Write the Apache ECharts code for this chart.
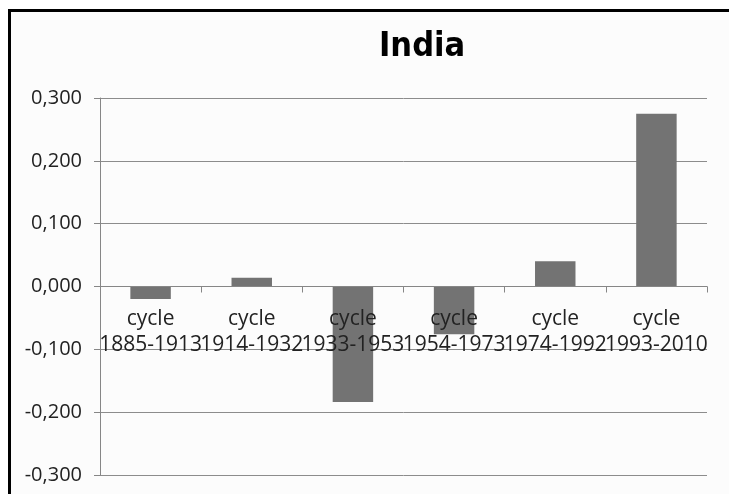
<!DOCTYPE html>
<html>
<head>
<meta charset="utf-8">
<script src="https://cdn.jsdelivr.net/npm/echarts@6/dist/echarts.min.js"></script>
<style>
	html, body { margin: 0; padding: 0; background: #ffffff; }
	#chart { width: 729px; height: 494px; }
</style>
</head>
<body>
<div id="chart"></div>
<script>
var titleText = 'India';
var periods = ['1885-1913', '1914-1932', '1933-1953', '1954-1973', '1974-1992', '1993-2010'];
var values = [-0.020, 0.014, -0.184, -0.076, 0.040, 0.275];
var yTicks = [-0.3, -0.2, -0.1, 0, 0.1, 0.2, 0.3];

var categories = [];
for (var i = 0; i < periods.length; i++) {
	categories.push('cycle\n' + periods[i]);
}

// plot box in px, the x axis sits on the zero line
var plotTop = 98, plotBottom = 475;
var zeroOffset = (plotBottom - plotTop) * (0 - yTicks[0]) / (yTicks[yTicks.length - 1] - yTicks[0]);

var chart = echarts.init(document.getElementById('chart'));

var option = {
	animation: false,
	backgroundColor: '#ffffff',
	graphic: [{
		type: 'rect',
		z: -10,
		silent: true,
		shape: { x: 9.5, y: 10.5, width: 760, height: 520 },
		style: { fill: '#fcfcfc', stroke: '#000000', lineWidth: 3 }
	}],
	title: {
		text: titleText,
		left: 374,
		top: 25,
		textStyle: {
			fontFamily: "'Liberation Sans Narrow', 'DejaVu Sans Condensed', sans-serif",
			fontWeight: 'bold',
			fontSize: 34,
			color: '#000000'
		}
	},
	grid: {
		left: 100,
		right: 22,
		top: plotTop,
		bottom: 494 - plotBottom,
		containLabel: false,
		outerBoundsMode: 'none'
	},
	xAxis: {
		type: 'category',
		data: categories,
		position: 'bottom',
		offset: -zeroOffset,
		z: 5,
		axisLine: { onZero: false, lineStyle: { color: '#868686', width: 1 } },
		axisTick: { show: true, length: 6, lineStyle: { color: '#868686' } },
		axisLabel: {
			interval: 0,
			margin: 20,
			fontFamily: 'Open Sans',
			fontSize: 21,
			lineHeight: 26,
			color: '#222222',
			hideOverlap: false
		},
		splitLine: { show: false }
	},
	yAxis: {
		type: 'value',
		min: yTicks[0],
		max: yTicks[yTicks.length - 1],
		interval: 0.1,
		axisLine: { show: true, lineStyle: { color: '#868686', width: 1 } },
		axisTick: { show: true, length: 6, lineStyle: { color: '#868686' } },
		axisLabel: {
			margin: 18,
			fontFamily: 'Open Sans',
			fontSize: 20,
			color: '#222222',
			formatter: function (v) {
				return (Math.abs(v) < 1e-9 ? 0 : v).toFixed(3).replace('.', ',');
			}
		},
		splitLine: { show: true, lineStyle: { color: '#8c8c8c', width: 1 } }
	},
	series: [{
		type: 'bar',
		data: values,
		barWidth: '40%',
		z: 1,
		itemStyle: { color: '#737373' }
	}]
};

chart.setOption(option);
</script>
</body>
</html>
